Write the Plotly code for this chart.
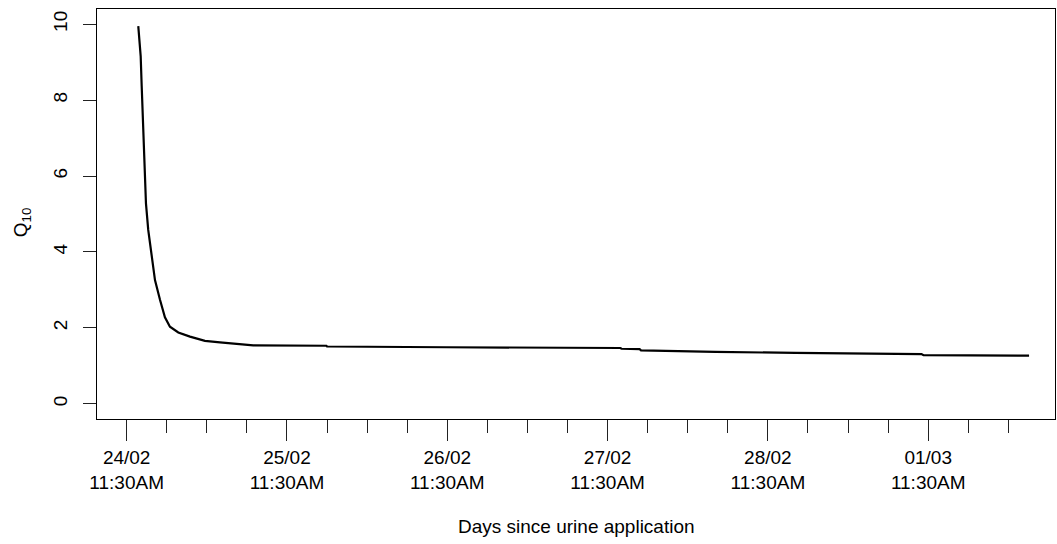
import datetime as dt
import pandas as pd
import plotly.graph_objects as go

# ---- data ----
start_time = "2019-02-24 11:30"
hours_since_application = [1.74, 2.10, 2.25, 2.40, 2.59, 2.78, 2.89, 3.23, 3.74, 4.24,
                           4.99, 5.73, 6.48, 7.73, 9.48, 11.72, 13.97, 15.96, 18.95, 29.9,
                           30.0, 47.9, 73.9, 74.1, 76.8, 77.0, 79.1, 88.1, 100.1, 119.0,
                           119.3, 135.1]
q10_values = [9.95, 9.16, 8.37, 7.60, 6.82, 6.07, 5.28, 4.58, 3.88, 3.26,
              2.74, 2.28, 2.03, 1.88, 1.77, 1.66, 1.62, 1.59, 1.54, 1.53,
              1.51, 1.49, 1.47, 1.45, 1.44, 1.41, 1.40, 1.37, 1.34, 1.31,
              1.28, 1.27]
tick_days = [0, 1, 2, 3, 4, 5]
tick_labels = ["24/02<br>11:30AM", "25/02<br>11:30AM", "26/02<br>11:30AM",
               "27/02<br>11:30AM", "28/02<br>11:30AM", "01/03<br>11:30AM"]
minor_tick_hours = [6, 12, 18, 30, 36, 42, 54, 60, 66, 78, 84, 90,
                    102, 108, 114, 126, 132]
y_ticks = [0, 2, 4, 6, 8, 10]

base = pd.Timestamp(start_time)
x_times = [base + pd.Timedelta(hours=h) for h in hours_since_application]
tick_vals = [base + pd.Timedelta(days=d) for d in tick_days]
minor_vals = [base + pd.Timedelta(hours=h) for h in minor_tick_hours]

FONT = "Liberation Sans, Arial, sans-serif"

fig = go.Figure()
fig.add_trace(go.Scatter(x=x_times, y=q10_values, mode="lines",
                         line=dict(color="black", width=2.2), showlegend=False))

x_lo = base - pd.Timedelta(days=0.185)
x_hi = base + pd.Timedelta(days=5.791)

fig.update_layout(
    width=1057, height=544,
    margin=dict(l=97, r=2, t=9, b=125, autoexpand=False),
    paper_bgcolor="white", plot_bgcolor="white",
    font=dict(family=FONT, size=19, color="black"),
    xaxis=dict(
        type="date", range=[x_lo, x_hi],
        tickmode="array", tickvals=tick_vals, ticktext=tick_labels,
        ticks="outside", ticklen=21, tickwidth=1, tickcolor="#222",
        showline=True, linecolor="black", linewidth=1, mirror=True,
        showgrid=False, zeroline=False,
        tickfont=dict(size=19, family=FONT, color="black"),
        ticklabelstandoff=0,
        minor=dict(tickmode="array", tickvals=minor_vals, ticks="outside",
                   ticklen=13, tickwidth=1, tickcolor="#222", showgrid=False),
    ),
    yaxis=dict(
        range=[-0.4, 10.4],
        tickmode="array", tickvals=y_ticks,
        ticks="outside", ticklen=13, tickwidth=1, tickcolor="#222",
        tickangle=-90,
        showline=True, linecolor="black", linewidth=1, mirror=True,
        showgrid=False, zeroline=False,
        tickfont=dict(size=19, family=FONT, color="black"),
        ticklabelstandoff=8,
    ),
    annotations=[
        dict(text="Days since urine application", xref="paper", yref="paper",
             x=0.5, y=-0.263, xanchor="center", yanchor="middle", showarrow=False,
             font=dict(size=19, family=FONT, color="black")),
        dict(text="Q<sub>10</sub>", xref="paper", yref="paper",
             x=-0.0783, y=0.48, xanchor="center", yanchor="middle", showarrow=False,
             textangle=-90, font=dict(size=19, family=FONT, color="black")),
    ],
)

fig.write_html("out.html")
